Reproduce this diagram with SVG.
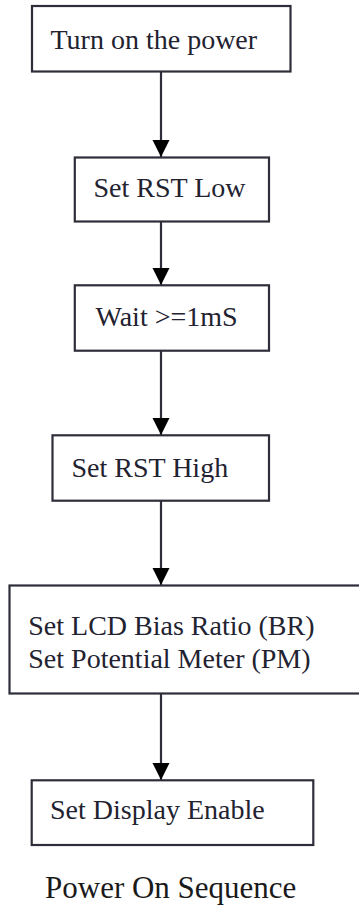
<svg xmlns="http://www.w3.org/2000/svg" width="359" height="909" viewBox="0 0 359 909">
<style>
.box{fill:#fff;stroke:#2e2e3a;stroke-width:2.2}
.t{font-family:"Liberation Serif","Times New Roman",serif;font-size:28px;fill:#222230}
.cap{font-family:"Liberation Serif","Times New Roman",serif;font-size:31px;fill:#1a1a1a}
.c{stroke:#2e2e3a;stroke-width:2.2;fill:none;marker-end:url(#ah)}
</style>
<defs>
<marker id="ah" markerUnits="userSpaceOnUse" markerWidth="18" markerHeight="18" refX="17" refY="8.5" orient="auto">
<path d="M0,0 L17,8.5 L0,17 Z" fill="#000"/>
</marker>
</defs>
<rect width="359" height="909" fill="#fff"/>
<g id="connectors">
<line class="c" x1="161" y1="71" x2="161" y2="157"/>
<line class="c" x1="161" y1="222" x2="161" y2="285"/>
<line class="c" x1="161" y1="351" x2="161" y2="435"/>
<line class="c" x1="161" y1="501" x2="161" y2="585"/>
<line class="c" x1="161" y1="693" x2="161" y2="780"/>
</g>
<g id="n1"><rect class="box" x="32" y="6" width="258.5" height="65.5"/><text class="t" x="50.5" y="48.5">Turn on the power</text></g>
<g id="n2"><rect class="box" x="74.8" y="157.5" width="194.2" height="64"/><text class="t" x="93.5" y="197">Set RST Low</text></g>
<g id="n3"><rect class="box" x="74.8" y="285.3" width="194.2" height="65.4"/><text class="t" x="95.5" y="325.5">Wait &gt;=1mS</text></g>
<g id="n4"><rect class="box" x="52.5" y="435.3" width="216.5" height="65.4"/><text class="t" x="71.5" y="476.5">Set RST High</text></g>
<g id="n5"><rect class="box" x="9.5" y="585.5" width="360" height="108"/><text class="t" x="28.3" y="635">Set LCD Bias Ratio (BR)</text><text class="t" x="28.3" y="668.3">Set Potential Meter (PM)</text></g>
<g id="n6"><rect class="box" x="31.7" y="780.3" width="281.6" height="64.7"/><text class="t" x="50" y="819.3">Set Display Enable</text></g>
<text class="cap" x="45" y="898.3">Power On Sequence</text>
</svg>
